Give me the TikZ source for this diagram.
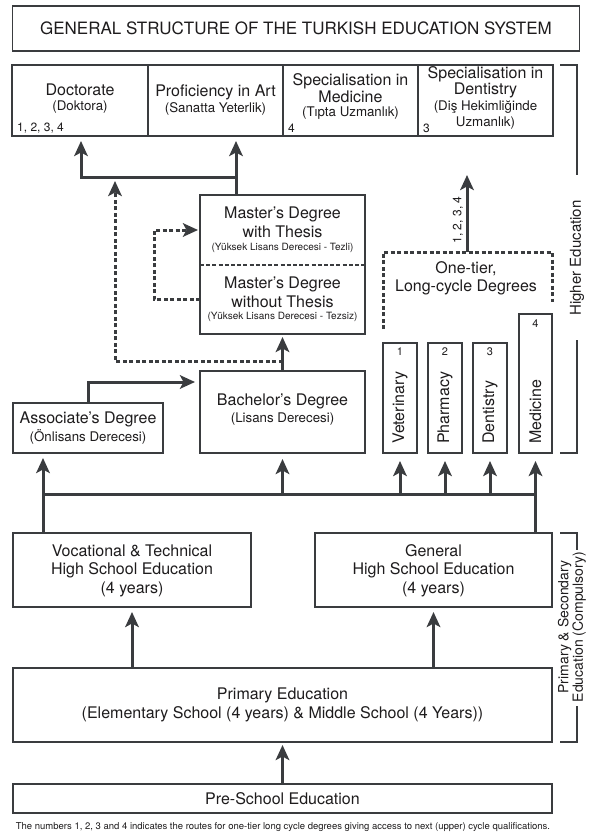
\documentclass[tikz,border=0pt]{standalone}
\usepackage{fontspec}
\setmainfont{TeX Gyre Heros}
\usetikzlibrary{arrows.meta}
\definecolor{ink}{HTML}{3A3C3F}
\definecolor{txtc}{HTML}{1E1C1D}
\newcommand{\fsTitle}{\fontsize{17}{20}\selectfont}
\newcommand{\fsMain}{\fontsize{16}{18}\selectfont}
\newcommand{\fsSub}{\fontsize{13.3}{16}\selectfont}
\newcommand{\fsTiny}{\fontsize{10}{12}\selectfont}
\newcommand{\fsNum}{\fontsize{12}{14}\selectfont}
\newcommand{\fsSmallNum}{\fontsize{11}{13}\selectfont}
\newcommand{\fsSide}{\fontsize{15}{16}\selectfont}
\newcommand{\fsFoot}{\fontsize{9.5}{10}\selectfont}
\newcommand{\mybox}[5]{\node[box, minimum width=#4pt, minimum height=#5pt] (#1) at (#2,#3) {};}
\tikzset{
  box/.style={draw=ink, line width=1.3pt, rectangle, inner sep=0pt, outer sep=0pt},
  txt/.style={text=txtc, inner sep=0pt, align=center},
  ln/.style={draw=ink, line width=3pt},
  tipA/.style={-{Stealth[length=15pt,width=13.5pt,inset=3.5pt]}},
  arr/.style={ln, tipA},
  dotln/.style={draw=ink, line width=3pt, dash pattern=on 4pt off 2.5pt},
  dotarr/.style={dotln, tipA},
  brk/.style={draw=ink, line width=1.3pt},
}
\begin{document}
\begin{tikzpicture}[x=1pt,y=-1pt]
\fill[white] (0,0) rectangle (596,832);
\useasboundingbox (0,0) rectangle (596,832);

% ---------- boxes ----------
\mybox{ttl}{296}{28.5}{567}{45}
\mybox{doc}{80}{100.5}{136}{71}
\mybox{prof}{215.5}{100.5}{135}{71}
\mybox{spm}{350.5}{100.5}{135}{71}
\mybox{spd}{485.5}{100.5}{135}{71}
\mybox{mast}{282.5}{264.5}{165}{139}
\mybox{bach}{282.5}{412}{165}{82}
\mybox{assoc}{88}{428}{150}{50}
\mybox{vet}{400}{398}{34}{110}
\mybox{pha}{445}{398}{34}{110}
\mybox{den}{490}{398}{34}{110}
\mybox{med}{535.5}{383.5}{33}{139}
\mybox{voc}{132}{570}{238}{74}
\mybox{gen}{433.5}{570}{237}{74}
\mybox{prim}{282.5}{705}{539}{74}
\mybox{pre}{282.5}{798.5}{539}{29}

% ---------- texts ----------
\node[txt] (ttlT) at (296,28.5) {\fsTitle GENERAL STRUCTURE OF THE TURKISH EDUCATION SYSTEM};

\node[txt] (docA) at (80,90) {\fsMain Doctorate};
\node[txt] (docB) at (80,107) {\fsSub (Doktora)};
\node[txt, anchor=west] (docN) at (17,128) {\fsNum 1, 2, 3, 4};

\node[txt] (profA) at (215.5,92) {\fsMain Proficiency in Art};
\node[txt] (profB) at (215.5,109) {\fsSub (Sanatta Yeterlik)};

\node[txt] (spmA) at (350.5,81) {\fsMain Specialisation in};
\node[txt] (spmB) at (350.5,97) {\fsMain Medicine};
\node[txt] (spmC) at (350.5,113) {\fsSub (Tıpta Uzmanlık)};
\node[txt, anchor=west] (spmN) at (288,128) {\fsNum 4};

\node[txt] (spdA) at (485.5,74) {\fsMain Specialisation in};
\node[txt] (spdB) at (485.5,90) {\fsMain Dentistry};
\node[txt] (spdC) at (485.5,107) {\fsSub (Diş Hekimliğinde};
\node[txt] (spdD) at (485.5,123) {\fsSub Uzmanlık)};
\node[txt, anchor=west] (spdN) at (423,128) {\fsNum 3};

\node[txt] (mA) at (282.5,214) {\fsMain Master’s Degree};
\node[txt] (mB) at (282.5,232) {\fsMain with Thesis};
\node[txt] (mC) at (282.5,248) {\fsTiny (Yüksek Lisans Derecesi - Tezli)};
\node[txt] (mD) at (282.5,284) {\fsMain Master’s Degree};
\node[txt] (mE) at (282.5,302) {\fsMain without Thesis};
\node[txt] (mF) at (282.5,317) {\fsTiny (Yüksek Lisans Derecesi - Tezsiz)};

\node[txt] (bA) at (282.5,401) {\fsMain Bachelor’s Degree};
\node[txt] (bB) at (282.5,419) {\fsSub (Lisans Derecesi)};

\node[txt] (aA) at (88,419) {\fsMain Associate’s Degree};
\node[txt] (aB) at (88,437) {\fsSub (Önlisans Derecesi)};

\node[txt] (otA) at (466,269) {\fsMain One-tier,};
\node[txt] (otB) at (466,287) {\fsMain Long-cycle Degrees};

\node[txt] (vetN) at (400,352) {\fsSmallNum 1};
\node[txt] (phaN) at (445,352) {\fsSmallNum 2};
\node[txt] (denN) at (490,352) {\fsSmallNum 3};
\node[txt] (medN) at (535.5,324) {\fsSmallNum 4};
\node[txt, rotate=90, anchor=west] (vetL) at (400,444) {\fsMain Veterinary};
\node[txt, rotate=90, anchor=west] (phaL) at (445,444) {\fsMain Pharmacy};
\node[txt, rotate=90, anchor=west] (denL) at (490,444) {\fsMain Dentistry};
\node[txt, rotate=90, anchor=west] (medL) at (535.5,444) {\fsMain Medicine};

\node[txt] (vA) at (132,551) {\fsMain Vocational \& Technical};
\node[txt] (vB) at (132,570) {\fsMain High School Education};
\node[txt] (vC) at (132,589) {\fsMain (4 years)};
\node[txt] (gA) at (433.5,551) {\fsMain General};
\node[txt] (gB) at (433.5,570) {\fsMain High School Education};
\node[txt] (gC) at (433.5,589) {\fsMain (4 years)};

\node[txt] (pA) at (282.5,695) {\fsMain Primary Education};
\node[txt] (pB) at (282.5,714) {\fsMain (Elementary School (4 years) \& Middle School (4 Years))};
\node[txt] (psA) at (282.5,798.5) {\fsMain Pre-School Education};

\node[txt] (foot) at (283,827) {\fsFoot The numbers 1, 2, 3 and 4 indicates the routes for one-tier long cycle degrees giving access to next (upper) cycle qualifications.};

% side labels
\node[txt, rotate=90] (hed) at (577,258) {\fsSide Higher Education};
\node[txt, rotate=90] (cmp) at (572,627) {\fontsize{14}{15}\selectfont Primary \& Secondary\\\fontsize{14}{15}\selectfont Education (Compulsory)};
\draw[brk] (560,65) -- (577,65) -- (577,175);
\draw[brk] (577,340) -- (577,453) -- (560,453);
\draw[brk] (560,533) -- (577,533) -- (577,550);
\draw[brk] (577,706) -- (577,742) -- (560,742);

% master divider
\coordinate (mdiv) at (282.5,265);
\draw[dotln, line width=2.3pt, dash pattern=on 4pt off 2.2pt] (mast.west |- mdiv) -- (mast.east |- mdiv);

% one-tier dashed frame
\draw[dotln] (383,329) -- (383,252) -- (552,252) -- (552,302);

% ---------- connectors ----------
\coordinate (jD) at (81,177);
\coordinate (jP) at (236,177);
\draw[arr, shorten >=5pt] (jP) -- (jD) -- (jD |- doc.south);
\draw[arr, shorten >=5pt] (jP |- mast.north) -- (jP |- prof.south);

% dotted route to doctorate
\coordinate (dJ) at (282.5,361);
\coordinate (dT) at (115,181);
\draw[dotarr] (dJ) -- (dJ -| dT) -- (dT);

% loop master without -> with thesis
\coordinate (lpA) at (154,299);
\coordinate (lpB) at (154,230);
\draw[dotarr, shorten >=2pt] (lpA -| mast.west) -- (lpA) -- (lpB) -- (lpB -| mast.west);

% bachelor -> master
\draw[arr, shorten >=3pt] (bach.north) -- (mast.south);

% associate -> bachelor
\coordinate (aC) at (88,382);
\draw[arr, shorten >=5pt] (assoc.north) -- (aC) -- (aC -| bach.west);

% one-tier -> upward
\coordinate (otBase) at (467,252);
\coordinate (otEnd) at (467,175);
\draw[arr] (otBase) -- (otEnd);
\node[txt, rotate=90] (otN) at (458,220) {\fsNum 1, 2, 3, 4};

% bus
\coordinate (bL) at (43,494);
\coordinate (bR) at (535.5,494);
\draw[ln] (bL) -- (bR);
\draw[arr, shorten >=5pt] (bL |- voc.north) -- (bL |- assoc.south);
\draw[arr, shorten >=8pt] (bR |- gen.north) -- (bR |- med.south);
\draw[arr, shorten >=6pt] (bach.south |- bL) -- (bach.south);
\draw[arr, shorten >=8pt] (vet.south |- bL) -- (vet.south);
\draw[arr, shorten >=8pt] (pha.south |- bL) -- (pha.south);
\draw[arr, shorten >=8pt] (den.south |- bL) -- (den.south);

% primary -> high schools
\draw[arr, shorten >=5pt] (voc.south |- prim.north) -- (voc.south);
\draw[arr, shorten >=5pt] (gen.south |- prim.north) -- (gen.south);

% pre-school -> primary
\draw[arr, shorten >=3pt] (pre.north) -- (prim.south);
\end{tikzpicture}
\end{document}
